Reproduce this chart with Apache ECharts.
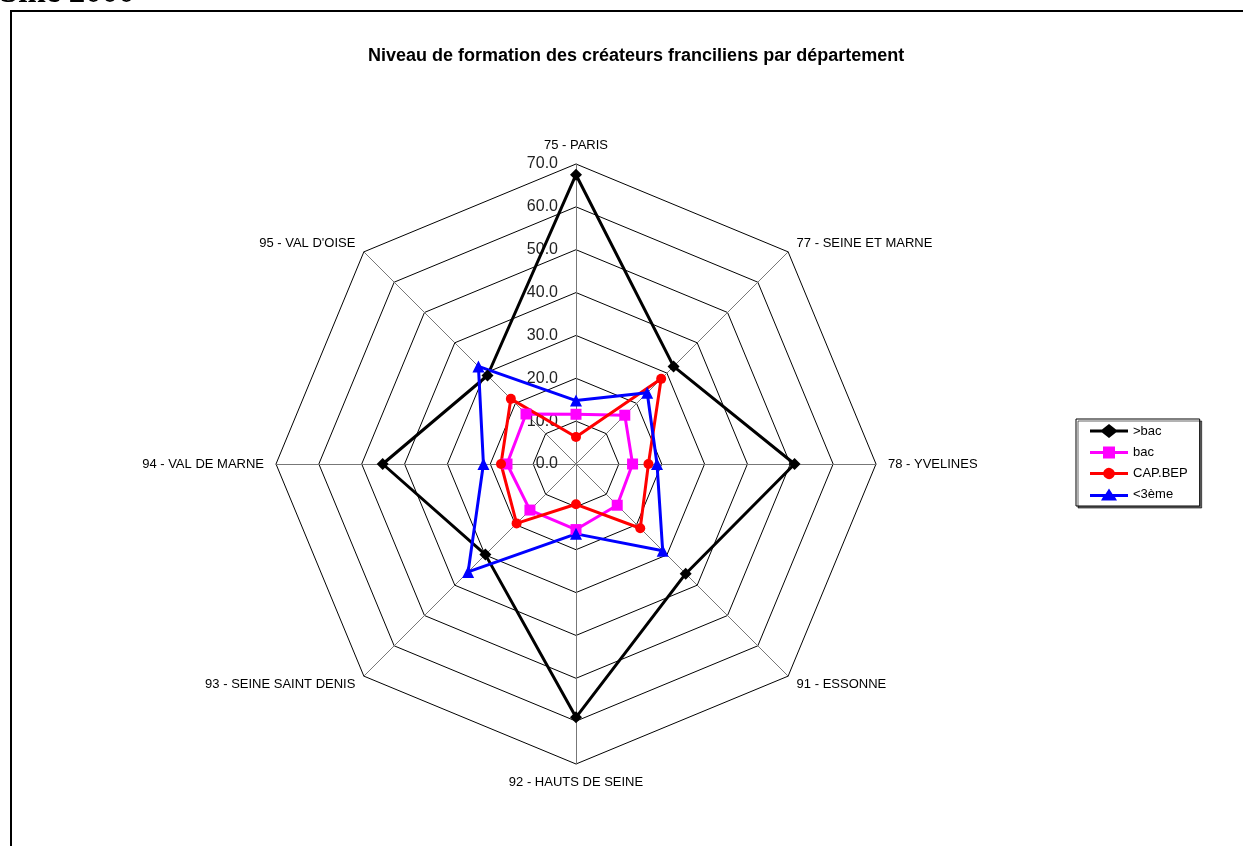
<!DOCTYPE html>
<html>
<head>
<meta charset="utf-8">
<script src="https://cdn.jsdelivr.net/npm/echarts@6/dist/echarts.min.js"></script>
<style>
  html, body { margin: 0; padding: 0; background: #fff; }
  #main { width: 1243px; height: 846px; }
</style>
</head>
<body>
<div id="main"></div>
<script>
// departements, clockwise from the top as in the original
var categories = ['75 - PARIS', '77 - SEINE ET MARNE', '78 - YVELINES', '91 - ESSONNE',
  '92 - HAUTS DE SEINE', '93 - SEINE SAINT DENIS', '94 - VAL DE MARNE', "95 - VAL D'OISE"]
var seriesNames = ['>bac', 'bac', 'CAP.BEP', '<3ème']
var supBac = [67.5, 32.2, 51.0, 36.2, 59.1, 29.9, 45.1, 29.2]
var bac = [11.6, 16.1, 13.2, 13.6, 15.3, 15.2, 16.1, 16.5]
var capBep = [6.3, 28.1, 16.9, 21.2, 9.4, 19.6, 17.5, 21.5]
var inf3 = [14.8, 23.5, 18.9, 28.6, 16.3, 35.6, 21.6, 32.2]
var axisMax = 70

// echarts lays radar indicators counterclockwise, so reverse everything after the first one
var order = [0, 7, 6, 5, 4, 3, 2, 1]
function reorder(arr) { return order.map(function (i) { return arr[i] }) }

var font = 'Liberation Sans, Arial, sans-serif'
var myChart = echarts.init(document.getElementById('main'))

var indicator = reorder(categories).map(function (name, i) {
  var ind = { name: name, min: 0, max: axisMax }
  // only the top axis shows its value labels
  ind.axisLabel = { show: i === 0 }
  return ind
})

// legend icons: a line with the marker in the middle (38 x 14 box)
var legendIcons = [
  'path://M0,5.5L12,5.5L19,0L26,5.5L38,5.5L38,8.5L26,8.5L19,14L12,8.5L0,8.5Z',
  'path://M0,5.5L13,5.5L13,1L25,1L25,5.5L38,5.5L38,8.5L25,8.5L25,13L13,13L13,8.5L0,8.5Z',
  'path://M0,5.5L13.3,5.5A6,6 0 0 1 24.7,5.5L38,5.5L38,8.5L24.7,8.5A6,6 0 0 1 13.3,8.5L0,8.5Z',
  'path://M0,5.5L15.5,5.5L19,0L22.5,5.5L38,5.5L38,8.5L25,8.5L27,12L11,12L13,8.5L0,8.5Z'
]

function mkSeries(name, values, color, symbol, size) {
  return {
    name: name,
    type: 'radar',
    symbol: symbol,
    symbolSize: size,
    itemStyle: { color: color },
    lineStyle: { color: color, width: 3 },
    data: [{ value: reorder(values), name: name }]
  }
}

var option = {
  animation: false,
  backgroundColor: '#fff',
  title: {
    text: 'Niveau de formation des créateurs franciliens par département',
    left: 363,
    top: 42,
    textStyle: { fontFamily: font, fontSize: 18, fontWeight: 'bold', color: '#000' }
  },
  legend: {
    orient: 'vertical',
    left: 1076,
    top: 419,
    width: 124,
    padding: [5, 12, 5, 14],
    itemGap: 8,
    itemWidth: 38,
    itemHeight: 14,
    borderColor: '#000',
    borderWidth: 1,
    shadowColor: 'rgba(0,0,0,0.6)',
    shadowOffsetX: 2,
    shadowOffsetY: 2,
    backgroundColor: '#fff',
    data: seriesNames.map(function (n, i) { return { name: n, icon: legendIcons[i] } }),
    textStyle: { fontFamily: font, fontSize: 13, color: '#000' }
  },
  graphic: [
    {
      type: 'rect',
      shape: { x: 11, y: 11, width: 1250, height: 850 },
      style: { fill: 'none', stroke: '#000', lineWidth: 2 },
      silent: true
    },
    {
      type: 'text',
      x: 0,
      y: -7,
      style: {
        text: 'Sine 2000',
        font: 'bold 33px "Liberation Serif", serif',
        fill: '#000',
        verticalAlign: 'middle'
      },
      silent: true
    }
  ],
  radar: {
    center: [576, 464],
    radius: 300,
    startAngle: 90,
    shape: 'polygon',
    splitNumber: 7,
    nameGap: 12,
    axisName: { color: '#000', fontFamily: font, fontSize: 13 },
    indicator: indicator,
    axisLine: { lineStyle: { color: '#777', width: 1 } },
    splitLine: { lineStyle: { color: '#000', width: 1 } },
    splitArea: { show: false },
    axisLabel: {
      margin: 18,
      fontFamily: font,
      fontSize: 16,
      color: '#222',
      formatter: function (v) { return v.toFixed(1) }
    }
  },
  series: [
    mkSeries(seriesNames[0], supBac, '#000000', 'diamond', 12),
    mkSeries(seriesNames[1], bac, '#ff00ff', 'rect', 11),
    mkSeries(seriesNames[2], capBep, '#ff0000', 'circle', 10),
    mkSeries(seriesNames[3], inf3, '#0000ff', 'triangle', 12)
  ]
}

myChart.setOption(option)
</script>
</body>
</html>
